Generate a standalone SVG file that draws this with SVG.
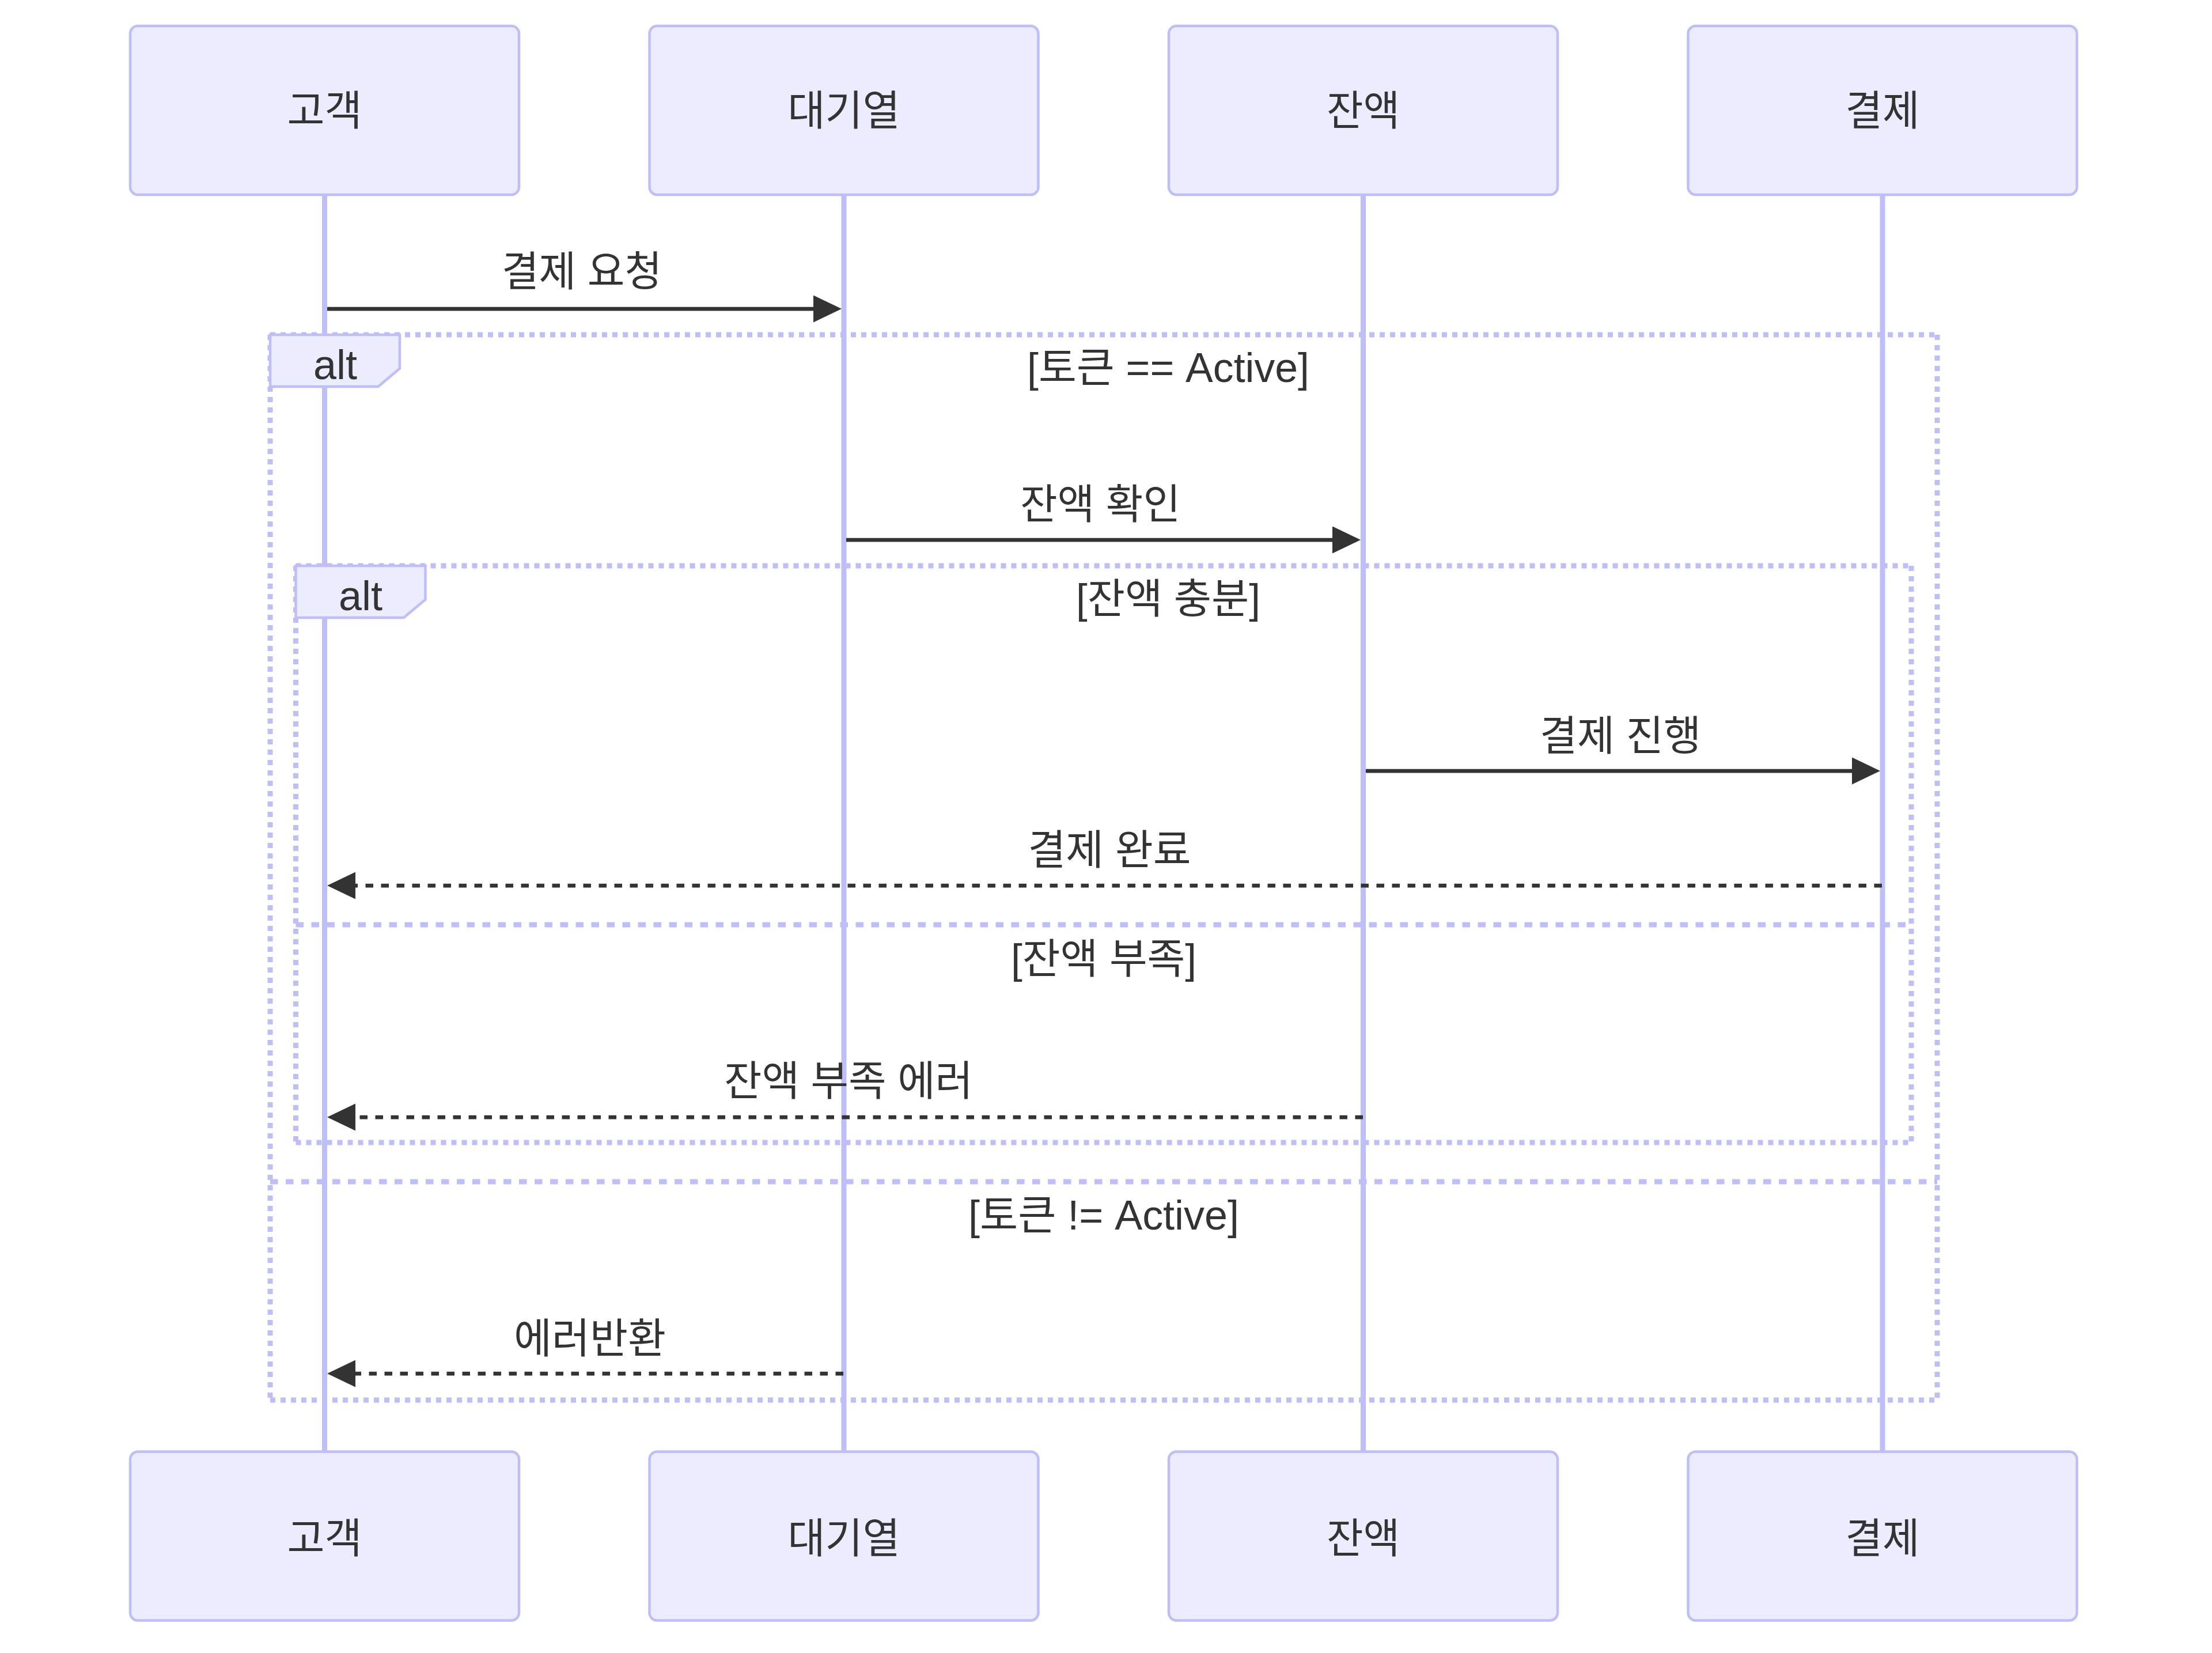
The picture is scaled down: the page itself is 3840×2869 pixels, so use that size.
<svg xmlns="http://www.w3.org/2000/svg" width="3840" height="2869" viewBox="0 0 3840 2869">
<style>
.bg{fill:#ffffff}
.actor{fill:#ECECFF;stroke:#BEBEF8;stroke-width:4.5}
.life{stroke:#BEBEF8;stroke-width:9}
.t{font-family:"Liberation Sans","Noto Sans CJK KR",sans-serif;font-size:72px;fill:#333333;text-anchor:middle}
.loop{fill:none;stroke:#BEBEF8;stroke-width:9;stroke-dasharray:9 9}
.sep{fill:none;stroke:#BEBEF8;stroke-width:9;stroke-dasharray:13.5 13.5}
.lbl{fill:#ECECFF;stroke:#BEBEF8;stroke-width:4.5}
.msg{stroke:#333333;stroke-width:6.75;fill:none}
.dash{stroke-dasharray:13.5 13.5}
</style>
<defs>
<marker id="ah" markerUnits="userSpaceOnUse" markerWidth="49" markerHeight="47" viewBox="0 0 49 47" refX="39" refY="23.5" orient="auto">
<path d="M0,0 L49,23.5 L0,47 z" fill="#333333"/>
</marker>
</defs>
<rect class="bg" x="0" y="0" width="3840" height="2869"/>
<g id="lifelines">
<line class="life" x1="563.5" y1="338" x2="563.5" y2="2520"/>
<line class="life" x1="1465" y1="338" x2="1465" y2="2520"/>
<line class="life" x1="2366.5" y1="338" x2="2366.5" y2="2520"/>
<line class="life" x1="3268" y1="338" x2="3268" y2="2520"/>
</g>
<g id="actor-customer-top"><rect class="actor" x="226" y="45" width="675" height="293" rx="13.5"/><text class="t" x="563.5" y="217" textLength="130" lengthAdjust="spacingAndGlyphs">고객</text></g>
<g id="actor-queue-top"><rect class="actor" x="1127.5" y="45" width="675" height="293" rx="13.5"/><text class="t" x="1465" y="217" textLength="195" lengthAdjust="spacingAndGlyphs">대기열</text></g>
<g id="actor-balance-top"><rect class="actor" x="2029" y="45" width="675" height="293" rx="13.5"/><text class="t" x="2366.5" y="217" textLength="127" lengthAdjust="spacingAndGlyphs">잔액</text></g>
<g id="actor-payment-top"><rect class="actor" x="2930.5" y="45" width="675" height="293" rx="13.5"/><text class="t" x="3268" y="217" textLength="129" lengthAdjust="spacingAndGlyphs">결제</text></g>
<g id="actor-customer-bottom"><rect class="actor" x="226" y="2519.5" width="675" height="293" rx="13.5"/><text class="t" x="563.5" y="2695" textLength="130" lengthAdjust="spacingAndGlyphs">고객</text></g>
<g id="actor-queue-bottom"><rect class="actor" x="1127.5" y="2519.5" width="675" height="293" rx="13.5"/><text class="t" x="1465" y="2695" textLength="195" lengthAdjust="spacingAndGlyphs">대기열</text></g>
<g id="actor-balance-bottom"><rect class="actor" x="2029" y="2519.5" width="675" height="293" rx="13.5"/><text class="t" x="2366.5" y="2695" textLength="127" lengthAdjust="spacingAndGlyphs">잔액</text></g>
<g id="actor-payment-bottom"><rect class="actor" x="2930.5" y="2519.5" width="675" height="293" rx="13.5"/><text class="t" x="3268" y="2695" textLength="129" lengthAdjust="spacingAndGlyphs">결제</text></g>
<g id="alt-outer">
<line class="loop" x1="469" y1="581" x2="3363" y2="581"/>
<line class="loop" x1="3363" y1="581" x2="3363" y2="2430"/>
<line class="loop" x1="469" y1="2430" x2="3363" y2="2430"/>
<line class="loop" x1="469" y1="581" x2="469" y2="2430"/>
<line class="sep" x1="469" y1="2051" x2="3363" y2="2051"/>
<polygon class="lbl" points="469,581 694,581 694,639.5 656.5,671 469,671"/>
<text class="t" x="582" y="658">alt</text>
<text class="t" x="2028" y="663" textLength="490" lengthAdjust="spacingAndGlyphs">[토큰 == Active]</text>
<text class="t" x="1916" y="2134" textLength="470" lengthAdjust="spacingAndGlyphs">[토큰 != Active]</text>
</g>
<g id="alt-inner">
<line class="loop" x1="513.5" y1="982" x2="3318" y2="982"/>
<line class="loop" x1="3318" y1="982" x2="3318" y2="1983"/>
<line class="loop" x1="513.5" y1="1983" x2="3318" y2="1983"/>
<line class="loop" x1="513.5" y1="982" x2="513.5" y2="1983"/>
<line class="sep" x1="513.5" y1="1605" x2="3318" y2="1605"/>
<polygon class="lbl" points="513.5,982 738.5,982 738.5,1040.5 701,1072 513.5,1072"/>
<text class="t" x="626" y="1059">alt</text>
<text class="t" x="2028" y="1064" textLength="320" lengthAdjust="spacingAndGlyphs">[잔액 충분]</text>
<text class="t" x="1916" y="1689" textLength="322" lengthAdjust="spacingAndGlyphs">[잔액 부족]</text>
</g>
<g id="connectors">
<line class="msg" x1="568" y1="536" x2="1451" y2="536" marker-end="url(#ah)"/>
<text class="t" x="1010" y="496" textLength="278" lengthAdjust="spacingAndGlyphs">결제 요청</text>
<line class="msg" x1="1469" y1="937" x2="2352" y2="937" marker-end="url(#ah)"/>
<text class="t" x="1910" y="900" textLength="278" lengthAdjust="spacingAndGlyphs">잔액 확인</text>
<line class="msg" x1="2371" y1="1338" x2="3254" y2="1338" marker-end="url(#ah)"/>
<text class="t" x="2813" y="1302" textLength="280" lengthAdjust="spacingAndGlyphs">결제 진행</text>
<line class="msg dash" x1="3267" y1="1537" x2="578" y2="1537" marker-end="url(#ah)"/>
<text class="t" x="1926" y="1500" textLength="283" lengthAdjust="spacingAndGlyphs">결제 완료</text>
<line class="msg dash" x1="2366" y1="1939" x2="578" y2="1939" marker-end="url(#ah)"/>
<text class="t" x="1473" y="1901" textLength="432" lengthAdjust="spacingAndGlyphs">잔액 부족 에러</text>
<line class="msg dash" x1="1464" y1="2384" x2="578" y2="2384" marker-end="url(#ah)"/>
<text class="t" x="1024" y="2348" textLength="264" lengthAdjust="spacingAndGlyphs">에러반환</text>
</g>
</svg>
